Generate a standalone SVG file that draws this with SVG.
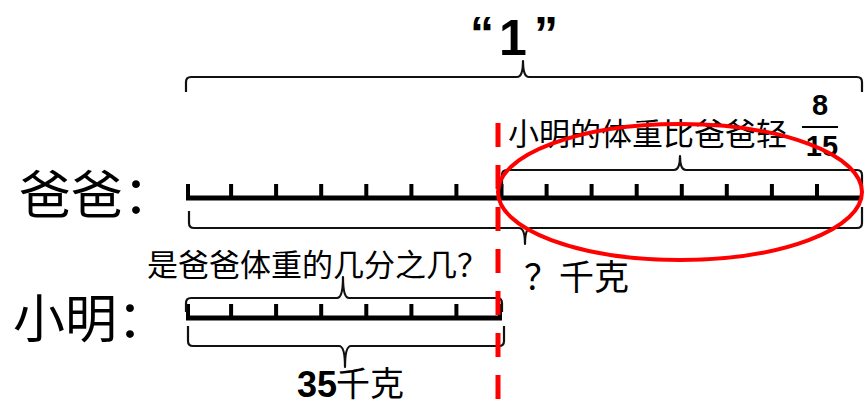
<svg xmlns="http://www.w3.org/2000/svg" width="865" height="406" viewBox="0 0 865 406">
<style>
.cjk{font-family:"Noto Sans CJK SC","Noto Sans",sans-serif;fill:#000}
.num{font-family:"Liberation Sans",Arial,sans-serif;font-weight:bold;fill:#000}
.bar{stroke:#000;stroke-width:5;fill:none}
.tick{stroke:#000;stroke-width:4;fill:none}
.brace{stroke:#111;stroke-width:2.2;fill:none;stroke-linejoin:round}
.red{stroke:#FF0000;fill:none}
</style>
<rect width="865" height="406" fill="#fff"/>

<g id="title">
  <text class="num" x="482" y="50" font-size="48" text-anchor="middle">“</text>
  <text class="num" x="513" y="55" font-size="50" text-anchor="middle">1</text>
  <text class="num" x="546" y="50" font-size="48" text-anchor="middle">”</text>
</g>

<g id="dad-label">
  <text class="cjk" x="19" y="214" font-size="52">爸爸：</text>
</g>

<g id="dad-bar">
  <line class="bar" x1="186" y1="198" x2="862" y2="198"/>
  <path class="tick" d="M188 184V198 M231.1 184V198 M276.1 184V198 M321.2 184V198 M366.3 184V198 M411.4 184V198 M456.4 184V198 M501.5 184V198 M546.6 184V198 M591.6 184V198 M636.7 184V198 M681.8 184V198 M726.8 184V198 M771.9 184V198 M817 184V198"/>
</g>

<g id="xm-label">
  <text class="cjk" x="13" y="338" font-size="52">小明：</text>
</g>

<g id="xm-bar">
  <line class="bar" x1="186" y1="318" x2="502" y2="318"/>
  <path class="tick" d="M188 304V318 M231.1 304V318 M276.1 304V318 M321.2 304V318 M366.3 304V318 M411.4 304V318 M456.4 304V318 M500 304V318"/>
</g>

<g id="connectors">
  <!-- top brace over whole dad bar -->
  <path class="brace" d="M186 92 L186 82 Q186 77 191 77 L517 77 Q523 77 523 61 Q523 77 529 77 L857 77 Q862 77 862 82 L862 92"/>
  <!-- brace over right 8/15 -->
  <path class="brace" d="M502 187 L502 175 Q502 170 507 170 L674 170 Q680 170 680 156 Q680 170 686 170 L857 170 Q862 170 862 175 L862 190"/>
  <!-- brace under dad bar -->
  <path class="brace" d="M189 211 L189 223 Q189 228 194 228 L519 228 Q525 228 525 244 Q525 228 531 228 L857 228 Q862 228 862 223 L862 207"/>
  <!-- brace over xiaoming bar -->
  <path class="brace" d="M186 312 L186 303 Q186 298 191 298 L337 298 Q343 298 343 277 Q343 298 349 298 L497 298 Q502 298 502 303 L502 312"/>
  <!-- brace under xiaoming bar -->
  <path class="brace" d="M188 326 L188 341 Q188 346 193 346 L339 346 Q345 346 345 367 Q345 346 351 346 L499 346 Q504 346 504 341 L504 326"/>
</g>

<g id="label-lighter">
  <text class="cjk" x="508" y="145" font-size="31">小明的体重比爸爸轻</text>
  <text class="num" x="820" y="115" font-size="29" text-anchor="middle">8</text>
  <line x1="802" y1="127" x2="838" y2="127" stroke="#000" stroke-width="2"/>
  <text class="num" x="822" y="156" font-size="29" text-anchor="middle">15</text>
</g>

<g id="label-fraction-question">
  <text class="cjk" x="147" y="276" font-size="31">是爸爸体重的几分之几？</text>
</g>

<g id="label-dad-weight">
  <text class="cjk" x="524" y="290" font-size="35">？千克</text>
</g>

<g id="label-xm-weight">
  <text class="num" x="297" y="397" font-size="36">35</text>
  <text class="cjk" x="336" y="396" font-size="34">千克</text>
</g>

<g id="red-marks">
  <line class="red" x1="498" y1="123" x2="498" y2="406" stroke-width="5" stroke-dasharray="24 18"/>
  <ellipse class="red" cx="680" cy="192" rx="182" ry="68" stroke-width="4"/>
</g>
</svg>
